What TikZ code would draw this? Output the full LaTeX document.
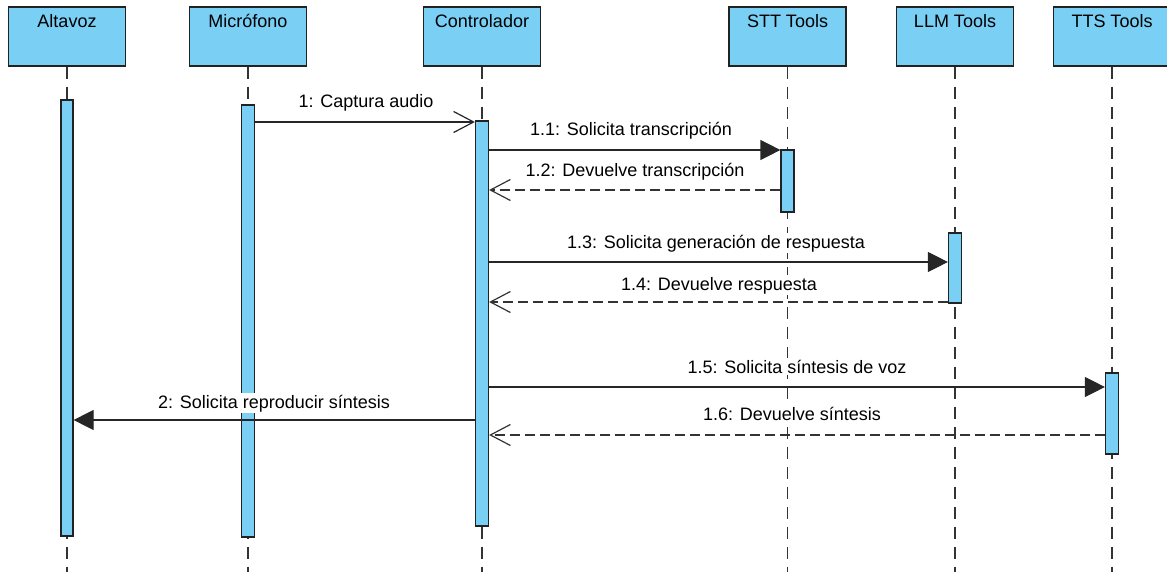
\documentclass[tikz,border=0pt]{standalone}
\usepackage{fontspec}
\setmainfont{Liberation Sans}
\usetikzlibrary{arrows.meta}
\definecolor{boxblue}{HTML}{7ACFF5}
\definecolor{edgecol}{HTML}{222222}
\definecolor{lifecol}{HTML}{333333}
\tikzset{
  headbox/.style={draw=edgecol, fill=boxblue, line width=1.3pt, minimum width=117pt, minimum height=59pt, inner sep=0pt},
  headtxt/.style={anchor=base, inner sep=0pt, font=\fontsize{18}{21}\selectfont},
  actbar/.style={draw=edgecol, fill=boxblue, line width=1.2pt, minimum width=13pt, inner sep=0pt},
  lifeline/.style={draw=lifecol, line width=1.2pt, dash pattern=on 12pt off 8pt},
  syncmsg/.style={draw=black!85, line width=1.2pt, -{Triangle[length=20pt,width=20pt]}},
  retmsg/.style={draw=lifecol, line width=1.2pt, dash pattern=on 10pt off 5pt, -{Straight Barb[length=20pt,width=21pt]}},
  openmsg/.style={draw=black!85, line width=1.2pt, -{Straight Barb[length=20pt,width=21pt]}},
  msglbl/.style={anchor=base, fill=white, inner sep=1.5pt, font=\fontsize{18}{21}\selectfont}
}
\begin{document}
\begin{tikzpicture}[x=1pt, y=-1pt]
\useasboundingbox (0,0) rectangle (1167,572);
% header boxes
\node[headbox] (alt) at (67,36.5) {};
\node[headbox] (mic) at (248,36.5) {};
\node[headbox] (ctrl) at (482,36.5) {};
\node[headbox] (stt) at (787.5,36.5) {};
\node[headbox] (llm) at (955,36.5) {};
\node[headbox] (tts) at (1112,36.5) {};
\node[headtxt] (altT) at (67,28) {Altavoz};
\node[headtxt] (micT) at (248,28) {Micrófono};
\node[headtxt] (ctrlT) at (482,28) {Controlador};
\node[headtxt] (sttT) at (787.5,28) {STT Tools};
\node[headtxt] (llmT) at (955,28) {LLM Tools};
\node[headtxt] (ttsT) at (1112,28) {TTS Tools};
% lifeline ends
\coordinate (altE) at (67,574);
\coordinate (micE) at (248,574);
\coordinate (ctrlE) at (482,574);
\coordinate (sttE) at (787.5,574);
\coordinate (llmE) at (955,574);
\coordinate (ttsE) at (1112,574);
\draw[lifeline] (alt.south) -- (altE);
\draw[lifeline] (mic.south) -- (micE);
\draw[lifeline] (ctrl.south) -- (ctrlE);
\draw[lifeline] (stt.south) -- (sttE);
\draw[lifeline] (llm.south) -- (llmE);
\draw[lifeline] (tts.south) -- (ttsE);
% activation bars
\node[actbar, minimum width=12pt, minimum height=436pt] (altB) at (67,318) {};
\node[actbar, minimum height=432pt] (micB) at (248,321) {};
\node[actbar, minimum height=405pt] (ctrlB) at (482,323.5) {};
\node[actbar, minimum height=62pt] (sttB) at (787.5,181) {};
\node[actbar, minimum height=70pt] (llmB) at (955,268) {};
\node[actbar, minimum height=81pt] (ttsB) at (1112,413.5) {};
% messages
\draw[openmsg] (micB.east |- 0,122) -- (ctrlB.west |- 0,122);
\draw[syncmsg] (ctrlB.east |- 0,150) -- (sttB.west |- 0,150);
\draw[retmsg] (sttB.west |- 0,190) -- (ctrlB.east |- 0,190);
\draw[syncmsg] (ctrlB.east |- 0,262) -- (llmB.west |- 0,262);
\draw[retmsg] (llmB.west |- 0,302) -- (ctrlB.east |- 0,302);
\draw[syncmsg] (ctrlB.east |- 0,387) -- (ttsB.west |- 0,387);
\draw[syncmsg] (ctrlB.west |- 0,420) -- (altB.east |- 0,420);
\draw[retmsg] (ttsB.west |- 0,435) -- (ctrlB.east |- 0,435);
% labels
\node[msglbl] (m1) at (366,108) {1: Captura audio};
\node[msglbl] (m11) at (631,136) {1.1: Solicita transcripción};
\node[msglbl] (m12) at (635,177) {1.2: Devuelve transcripción};
\node[msglbl] (m13) at (716,248) {1.3: Solicita generación de respuesta};
\node[msglbl] (m14) at (719,290) {1.4: Devuelve respuesta};
\node[msglbl] (m15) at (797,373) {1.5: Solicita síntesis de voz};
\node[msglbl] (m2) at (274,408) {2: Solicita reproducir síntesis};
\node[msglbl] (m16) at (792,420) {1.6: Devuelve síntesis};
\end{tikzpicture}
\end{document}
